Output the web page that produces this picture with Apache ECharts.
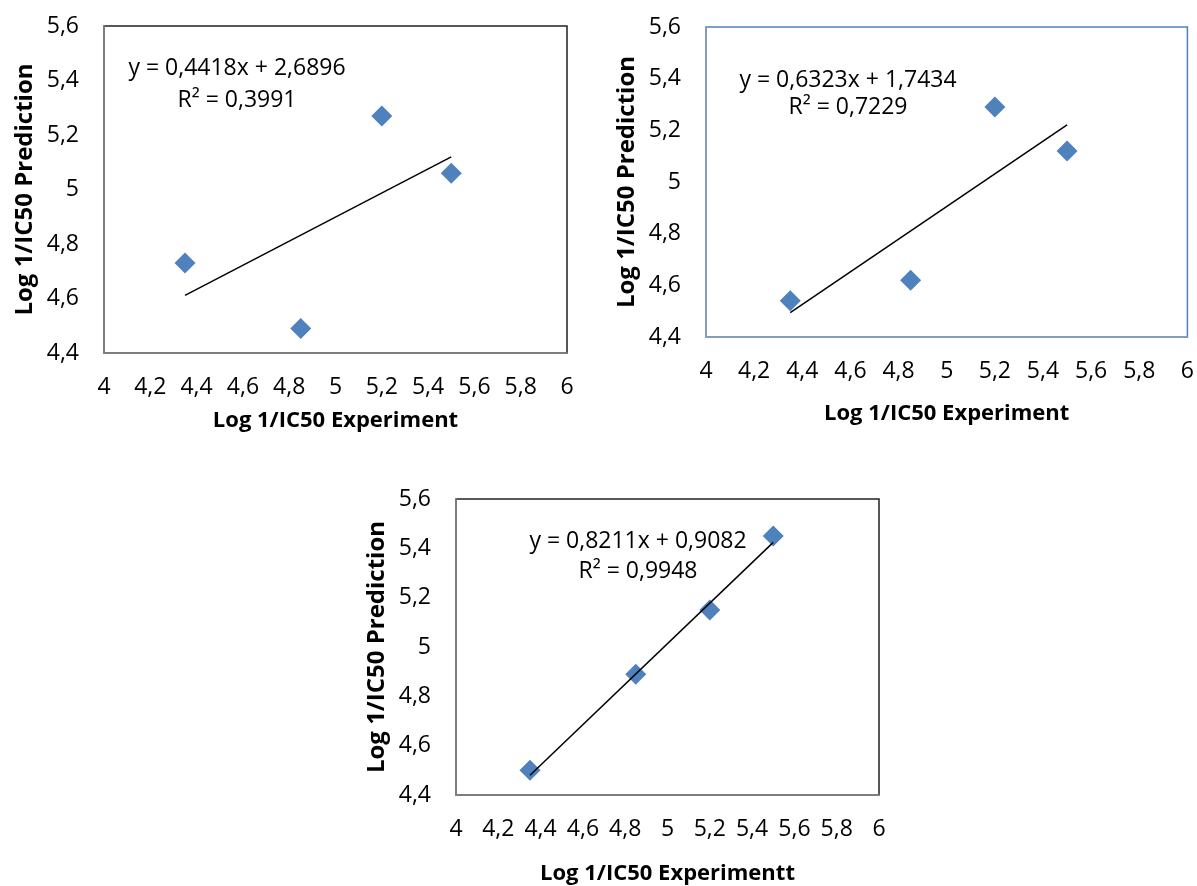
<!DOCTYPE html>
<html>
<head>
<meta charset="utf-8">
<script src="https://cdn.jsdelivr.net/npm/echarts@6/dist/echarts.min.js"></script>
<style>
  html, body { margin: 0; padding: 0; background: #fff; }
  #main { width: 1197px; height: 886px; }
</style>
</head>
<body>
<div id="main"></div>
<script>
// Log 1/IC50 experiment values (same for all three panels)
const expValues = [4.35, 4.85, 5.2, 5.5];
// predicted values, one array per panel
const predA = [4.73, 4.49, 5.27, 5.06];
const predB = [4.54, 4.62, 5.29, 5.12];
const predC = [4.50, 4.89, 5.15, 5.45];
// linear trendlines as printed on the chart
const slopes = [0.4418, 0.6323, 0.8211];
const intercepts = [2.6896, 1.7434, 0.9082];
const eqLabels = ['y = 0,4418x + 2,6896', 'y = 0,6323x + 1,7434', 'y = 0,8211x + 0,9082'];
const r2Labels = ['R² = 0,3991', 'R² = 0,7229', 'R² = 0,9948'];
const xTitles = ['Log 1/IC50 Experiment', 'Log 1/IC50 Experiment', 'Log 1/IC50 Experimentt'];
const yTitle = 'Log 1/IC50 Prediction';

const FONT = '"Open Sans", sans-serif';
const comma = v => String(+v.toFixed(2)).replace('.', ',');

const grids = [
    {left: 104, top: 26, width: 463, height: 327},
    {left: 706, top: 27, width: 484, height: 310},
    {left: 456, top: 499, width: 423, height: 299}
];
const borders = [
    {outer: '#222', inner: '#8a8a8a'},
    {outer: '#4f81bd', inner: '#8a9bb8'},
    {outer: '#222', inner: '#8a8a8a'}
];
const xNameGaps = [57, 66, 68];
const preds = [predA, predB, predC];

const lo = Math.min(...expValues);
const hi = Math.max(...expValues);

const option = {
    animation: false,
    backgroundColor: '#fff',
    grid: grids.map((g, i) => Object.assign({
        show: true,
        borderColor: borders[i].outer,
        borderWidth: 1.5,
        backgroundColor: 'transparent'
    }, g)),
    xAxis: grids.map((g, i) => ({
        gridIndex: i,
        type: 'value',
        min: 4,
        max: 6,
        interval: 0.2,
        name: xTitles[i],
        nameLocation: 'middle',
        nameGap: xNameGaps[i],
        nameTextStyle: {fontFamily: FONT, fontSize: 22, fontWeight: 'bold', color: '#000'},
        axisLine: {show: true, lineStyle: {color: borders[i].inner, width: 1.5}},
        axisTick: {show: false},
        splitLine: {show: false},
        axisLabel: {
            margin: 23,
            fontFamily: FONT,
            fontSize: 23,
            color: '#000',
            formatter: comma
        }
    })),
    yAxis: grids.map((g, i) => ({
        gridIndex: i,
        type: 'value',
        min: 4.4,
        max: 5.6,
        interval: 0.2,
        name: yTitle,
        nameLocation: 'middle',
        nameRotate: 90,
        nameGap: 67,
        nameTextStyle: {fontFamily: FONT, fontSize: 24, fontWeight: 'bold', color: '#000'},
        axisLine: {show: true, lineStyle: {color: borders[i].inner, width: 1.5}},
        axisTick: {show: false},
        splitLine: {show: false},
        axisLabel: {
            margin: 25,
            fontFamily: FONT,
            fontSize: 23,
            color: '#000',
            formatter: comma
        }
    })),
    series: [],
    graphic: []
};

preds.forEach((p, i) => {
    // trendline from the fitted equation over the data range
    option.series.push({
        type: 'line',
        xAxisIndex: i,
        yAxisIndex: i,
        symbol: 'none',
        silent: true,
        lineStyle: {color: '#000', width: 1.5},
        data: [[lo, slopes[i] * lo + intercepts[i]], [hi, slopes[i] * hi + intercepts[i]]],
        z: 3
    });
    option.series.push({
        type: 'scatter',
        xAxisIndex: i,
        yAxisIndex: i,
        symbol: 'diamond',
        symbolSize: 21,
        itemStyle: {color: '#4f81bd', opacity: 1},
        data: expValues.map((x, k) => [x, p[k]]),
        z: 2
    });
});

// equation text boxes
const eqPos = [
    {x: 237, y1: 68, y2: 100},
    {x: 848, y1: 80, y2: 107},
    {x: 638, y1: 541, y2: 571}
];
eqPos.forEach((e, i) => {
    [[eqLabels[i], e.y1], [r2Labels[i], e.y2]].forEach(([t, y]) => {
        option.graphic.push({
            type: 'text',
            x: e.x,
            y: y,
            style: {
                text: t,
                fontFamily: FONT,
                fontSize: 23,
                fill: '#000',
                align: 'center',
                verticalAlign: 'middle'
            }
        });
    });
});

const myChart = echarts.init(document.getElementById('main'));
myChart.setOption(option);
</script>
</body>
</html>
